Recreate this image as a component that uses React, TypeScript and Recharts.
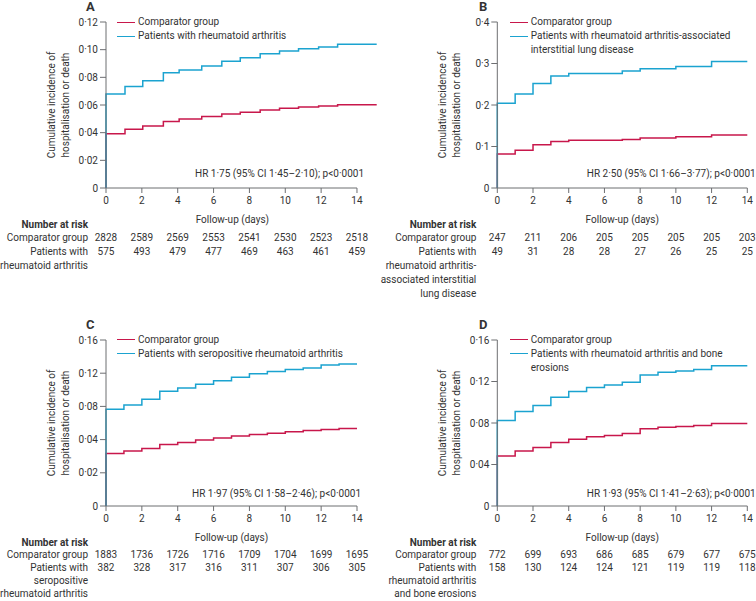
import React from 'react';
import { LineChart, Line, XAxis, YAxis, ReferenceLine, Label } from 'recharts';

const FONT = "Roboto, 'Liberation Sans', sans-serif";
const RED = '#c8174b';
const BLUE = '#1ba3d0';
const AXIS = '#6d6e71';
const TEXT = '#333333';
const FS = 10;

const X_TICKS = [0, 2, 4, 6, 8, 10, 12, 14];

// Panel A — all rheumatoid arthritis
const A_TIMES = [0, 1.06, 2.05, 3.2, 4.08, 5.34, 6.46, 7.49, 8.6, 9.68, 10.74, 11.86, 12.92, 15.1];
const A_COMPARATOR = [0.0393, 0.0424, 0.0448, 0.048, 0.0499, 0.0516, 0.0535, 0.0547, 0.0564, 0.0576, 0.0586, 0.0593, 0.0602, 0.0602];
const A_PATIENTS = [0.068, 0.0733, 0.0776, 0.0834, 0.0853, 0.0882, 0.0916, 0.0942, 0.0971, 0.099, 0.1007, 0.1019, 0.1039, 0.1039];
const A_RISK_COMPARATOR = [2828, 2589, 2569, 2553, 2541, 2530, 2523, 2518];
const A_RISK_PATIENTS = [575, 493, 479, 477, 469, 463, 461, 459];
const A_Y_TICKS = [0, 0.02, 0.04, 0.06, 0.08, 0.1, 0.12];
const A_Y_LABELS = ['0', '0·02', '0·04', '0·06', '0·08', '0·10', '0·12'];

// Panel B — RA-associated interstitial lung disease
const B_TIMES = [0, 1, 2, 3, 4, 7, 8, 10, 12, 14];
const B_COMPARATOR = [0.082, 0.0908, 0.104, 0.112, 0.115, 0.117, 0.1205, 0.1237, 0.1277, 0.1277];
const B_PATIENTS = [0.204, 0.2265, 0.252, 0.27, 0.276, 0.282, 0.2875, 0.293, 0.305, 0.305];
const B_RISK_COMPARATOR = [247, 211, 206, 205, 205, 205, 205, 203];
const B_RISK_PATIENTS = [49, 31, 28, 28, 27, 26, 25, 25];
const B_Y_TICKS = [0, 0.1, 0.2, 0.3, 0.4];
const B_Y_LABELS = ['0', '0·1', '0·2', '0·3', '0·4'];

// Panel C — seropositive RA (tick labels as printed)
const C_TIMES = [0, 1, 2, 3, 4, 5, 6, 7, 8, 9, 10, 11, 12, 13, 14];
const C_COMPARATOR = [0.0317, 0.0331, 0.0347, 0.0371, 0.0383, 0.0397, 0.0409, 0.0421, 0.0431, 0.0439, 0.0447, 0.0455, 0.0461, 0.0467, 0.0467];
const C_PATIENTS = [0.0583, 0.0609, 0.0643, 0.0691, 0.0711, 0.0733, 0.0754, 0.0776, 0.0796, 0.081, 0.0822, 0.0832, 0.085, 0.0856, 0.0856];
const C_RISK_COMPARATOR = [1883, 1736, 1726, 1716, 1709, 1704, 1699, 1695];
const C_RISK_PATIENTS = [382, 328, 317, 316, 311, 307, 306, 305];
const C_Y_TICKS = [0, 0.02, 0.04, 0.06, 0.08, 0.1];
const C_Y_LABELS = ['0', '0·02', '0·04', '0·08', '0·12', '0·16'];

// Panel D — RA with bone erosions
const D_TIMES = [0, 1, 2, 3, 4, 5, 6, 7, 8, 9, 10, 11, 12, 14];
const D_COMPARATOR = [0.0481, 0.0529, 0.0564, 0.0612, 0.0644, 0.0667, 0.068, 0.0699, 0.0744, 0.076, 0.0766, 0.0776, 0.0795, 0.0795];
const D_PATIENTS = [0.0824, 0.091, 0.0968, 0.1048, 0.1103, 0.1141, 0.1167, 0.1193, 0.1263, 0.1289, 0.1302, 0.1315, 0.1353, 0.1353];
const D_RISK_COMPARATOR = [772, 699, 693, 686, 685, 679, 677, 675];
const D_RISK_PATIENTS = [158, 130, 124, 124, 121, 119, 119, 118];
const D_Y_TICKS = [0, 0.04, 0.08, 0.12, 0.16];
const D_Y_LABELS = ['0', '0·04', '0·08', '0·12', '0·16'];

const toSeries = (times: number[], vals: number[]) => [{ t: 0, v: 0 }, ...times.map((t, i) => ({ t, v: vals[i] }))];

interface PanelCfg {
  letter: string;
  ox: number;
  oy: number;
  ml: number;
  mr: number;
  xMax: number;
  labelDx: number;
  yTicks: number[];
  yLabels: string[];
  comparator: { t: number; v: number }[];
  patients: { t: number; v: number }[];
  riskComparator: number[];
  riskPatients: number[];
  riskLabel: string[];
  riskGap: number;
  rowStep: number;
  legend: string[];
  legendX: number;
  hr: string;
  hrRight: number;
  hrY: number;
  yLabelX: number;
}

const PANELS: PanelCfg[] = [
  {
    letter: 'A', ox: 0, oy: 0, ml: 70, mr: 1.3, xMax: 15.1, labelDx: -9,
    yTicks: A_Y_TICKS, yLabels: A_Y_LABELS,
    comparator: toSeries(A_TIMES, A_COMPARATOR), patients: toSeries(A_TIMES, A_PATIENTS),
    riskComparator: A_RISK_COMPARATOR, riskPatients: A_RISK_PATIENTS,
    riskLabel: ['Patients with', 'rheumatoid arthritis'], riskGap: 18, rowStep: 14,
    legend: ['Patients with rheumatoid arthritis'], legendX: 117,
    hr: 'HR 1·75 (95% CI 1·45–2·10); p<0·0001', hrRight: 364, hrY: 174, yLabelX: 59,
  },
  {
    letter: 'B', ox: 378, oy: 0, ml: 83.3, mr: 8.7, xMax: 14, labelDx: 0,
    yTicks: B_Y_TICKS, yLabels: B_Y_LABELS,
    comparator: toSeries(B_TIMES, B_COMPARATOR), patients: toSeries(B_TIMES, B_PATIENTS),
    riskComparator: B_RISK_COMPARATOR, riskPatients: B_RISK_PATIENTS,
    riskLabel: ['Patients with', 'rheumatoid arthritis-', 'associated interstitial', 'lung disease'], riskGap: 21, rowStep: 14,
    legend: ['Patients with rheumatoid arthritis-associated', 'interstitial lung disease'], legendX: 131.7,
    hr: 'HR 2·50 (95% CI 1·66–3·77); p<0·0001', hrRight: 377.7, hrY: 174, yLabelX: 72,
  },
  {
    letter: 'C', ox: 0, oy: 317.5, ml: 70, mr: 21, xMax: 14, labelDx: 0,
    yTicks: C_Y_TICKS, yLabels: C_Y_LABELS,
    comparator: toSeries(C_TIMES, C_COMPARATOR), patients: toSeries(C_TIMES, C_PATIENTS),
    riskComparator: C_RISK_COMPARATOR, riskPatients: C_RISK_PATIENTS,
    riskLabel: ['Patients with', 'seropositive', 'rheumatoid arthritis'], riskGap: 18, rowStep: 13,
    legend: ['Patients with seropositive rheumatoid arthritis'], legendX: 117,
    hr: 'HR 1·97 (95% CI 1·58–2·46); p<0·0001', hrRight: 361, hrY: 176.5, yLabelX: 59,
  },
  {
    letter: 'D', ox: 378, oy: 317.5, ml: 83.3, mr: 8.7, xMax: 14, labelDx: 0,
    yTicks: D_Y_TICKS, yLabels: D_Y_LABELS,
    comparator: toSeries(D_TIMES, D_COMPARATOR), patients: toSeries(D_TIMES, D_PATIENTS),
    riskComparator: D_RISK_COMPARATOR, riskPatients: D_RISK_PATIENTS,
    riskLabel: ['Patients with', 'rheumatoid arthritis', 'and bone erosions'], riskGap: 21, rowStep: 13,
    legend: ['Patients with rheumatoid arthritis and bone', 'erosions'], legendX: 131.7,
    hr: 'HR 1·93 (95% CI 1·41–2·63); p<0·0001', hrRight: 377.7, hrY: 176.5, yLabelX: 72,
  },
];

const makeTick = (cfg: PanelCfg) => (props: any) => {
  const { x, y, payload } = props;
  const i = X_TICKS.indexOf(payload.value);
  const lx = x - cfg.riskGap;
  const s = cfg.rowStep;
  const compY = y + 32 + s;
  const patY = compY + s;
  return (
    <g fontSize={FS} fill={TEXT} fontFamily={FONT}>
      <text x={x} y={y + 8.5} textAnchor="middle">{payload.value}</text>
      <text x={x} y={compY} textAnchor="middle">{cfg.riskComparator[i]}</text>
      <text x={x} y={patY} textAnchor="middle">{cfg.riskPatients[i]}</text>
      {i === 0 && (
        <g textAnchor="end">
          <text x={lx} y={y + 32.5} fontWeight="bold">Number at risk</text>
          <text x={lx} y={compY}>Comparator group</text>
          {cfg.riskLabel.map((t, k) => (
            <text key={k} x={lx} y={patY + k * s}>{t}</text>
          ))}
        </g>
      )}
    </g>
  );
};

const LegendRow = ({ color, lines, x, y }: { color: string; lines: string[]; x: number; y: number }) => (
  <div style={{ position: 'absolute', left: x, top: y - 7, lineHeight: '14px', whiteSpace: 'nowrap' }}>
    {lines.map((s, k) => (
      <div key={k} style={{ display: 'flex', alignItems: 'center' }}>
        <span style={{ display: 'inline-block', width: 18, borderTop: k === 0 ? `1.5px solid ${color}` : 'none', marginRight: 3 }} />
        <span>{s}</span>
      </div>
    ))}
  </div>
);

const Panel = ({ cfg }: { cfg: PanelCfg }) => (
  <div style={{ position: 'absolute', left: cfg.ox, top: cfg.oy, width: 378, height: 300, fontSize: FS, color: TEXT }}>
    <LineChart width={378} height={300} margin={{ top: 22, right: cfg.mr, left: cfg.ml, bottom: 77 }} style={{ fontFamily: FONT }}>
      <XAxis
        dataKey="t"
        type="number"
        domain={[0, cfg.xMax]}
        ticks={X_TICKS}
        interval={0}
        axisLine={false}
        tickLine={{ stroke: AXIS }}
        tickSize={5}
        height={35}
        tick={makeTick(cfg)}
      >
        <Label value="Follow-up (days)" position="insideBottom" offset={0} dx={cfg.labelDx} fill={TEXT} fontSize={FS} />
      </XAxis>
      <YAxis
        type="number"
        domain={[0, cfg.yTicks[cfg.yTicks.length - 1]]}
        ticks={cfg.yTicks}
        interval={0}
        tickFormatter={(v: number) => cfg.yLabels[cfg.yTicks.indexOf(v)] ?? String(v)}
        width={36}
        tickSize={6}
        axisLine={{ stroke: AXIS }}
        tickLine={{ stroke: AXIS }}
        tick={{ fill: TEXT, fontSize: FS }}
      />
      <ReferenceLine segment={[{ x: 0, y: 0 }, { x: 14, y: 0 }]} stroke={AXIS} ifOverflow="visible" />
      <Line data={cfg.comparator} dataKey="v" type="stepAfter" stroke={RED} strokeWidth={1.5} dot={false} isAnimationActive={false} />
      <Line data={cfg.patients} dataKey="v" type="stepAfter" stroke={BLUE} strokeWidth={1.5} dot={false} isAnimationActive={false} />
    </LineChart>

    <div style={{ position: 'absolute', left: cfg.letter === 'A' || cfg.letter === 'C' ? 86 : 101, top: 0, lineHeight: '13px', fontWeight: 'bold', fontSize: 13 }}>
      {cfg.letter}
    </div>

    <LegendRow color={RED} lines={['Comparator group']} x={cfg.legendX} y={22} />
    <LegendRow color={BLUE} lines={cfg.legend} x={cfg.legendX} y={36} />

    <div
      style={{
        position: 'absolute',
        left: cfg.yLabelX,
        top: 105,
        transform: 'translate(-50%, -50%) rotate(-90deg)',
        whiteSpace: 'nowrap',
        textAlign: 'center',
        lineHeight: '14px',
      }}
    >
      Cumulative incidence of
      <br />
      hospitalisation or death
    </div>

    <div style={{ position: 'absolute', right: 378 - cfg.hrRight, top: cfg.hrY - 7, lineHeight: '14px', whiteSpace: 'nowrap' }}>
      {cfg.hr}
    </div>
  </div>
);

export default function App() {
  return (
    <div
      style={{
        position: 'absolute',
        left: 0,
        top: 0,
        width: 756,
        height: 601,
        overflow: 'hidden',
        background: '#ffffff',
        fontFamily: FONT,
      }}
    >
      <style>{'.recharts-surface { overflow: visible; }'}</style>
      {PANELS.map((p) => (
        <Panel key={p.letter} cfg={p} />
      ))}
    </div>
  );
}
